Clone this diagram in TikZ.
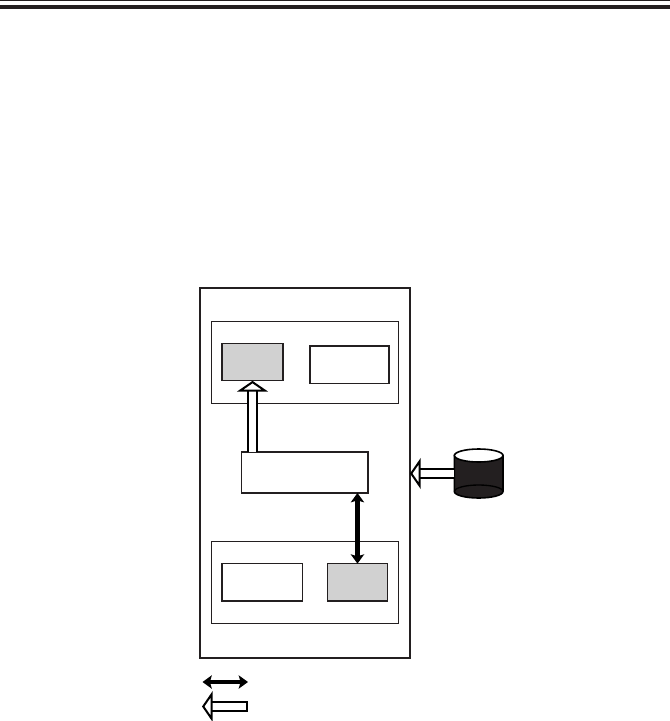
\documentclass[tikz,border=0pt]{standalone}
\usepackage{xcolor}
\usetikzlibrary{arrows.meta,positioning}
\definecolor{BoxInk}{HTML}{231F20}
\definecolor{BoxGray}{HTML}{D1D1D1}
\tikzset{
  outerbox/.style={draw=BoxInk,line width=1.2pt,inner sep=0pt,outer sep=0pt,minimum width=157.5pt,minimum height=277.5pt},
  panelbox/.style={draw=BoxInk,line width=0.75pt,inner sep=0pt,outer sep=0pt,minimum width=140.25pt,minimum height=61.5pt},
  unitbox/.style={draw=BoxInk,line width=0.85pt,inner sep=0pt,outer sep=0pt,minimum height=28pt},
  diskbox/.style={inner sep=0pt,outer sep=0pt,minimum width=36.5pt,minimum height=36.5pt},
  solidarrow/.style={{Stealth[length=7pt,width=10pt,inset=1.5pt]}-{Stealth[length=7pt,width=10pt,inset=1.5pt]},line width=3.2pt,draw=black},
  hollowarrow/.style={-{Triangle[open,fill=white,length=8pt,width=23pt,line width=1.5pt]},double=white,double distance=5.4pt,line width=1.4pt,draw=black},
  hollowkey/.style={hollowarrow,{Bar[width=8.2pt,line width=1.5pt]}-{Triangle[open,fill=white,length=8pt,width=23pt,line width=1.5pt]}}
}
\begin{document}
\begin{tikzpicture}[x=0.75pt,y=-0.75pt]
\useasboundingbox (0,0) rectangle (670,721);
% rules along the top
\fill[BoxInk] (0,0) rectangle (670,1.2);
\fill[BoxInk] (0,5) rectangle (670,9);
% frame and the two panels
\node[outerbox,anchor=north west] (frame) at (200,288) {};
\node[panelbox,below right=24.75pt and 8.6pt of frame.north west] (panelA) {};
\node[panelbox,below right=189.75pt and 8.6pt of frame.north west] (panelB) {};
\node[unitbox,fill=BoxGray,minimum width=45.75pt,below right=16.9pt and 7.9pt of panelA.north west] (grayA) {};
\node[unitbox,minimum width=59.25pt,below right=18.75pt and 73.9pt of panelA.north west] (whiteA) {};
\node[unitbox,minimum width=94.9pt,minimum height=30.75pt,below right=123pt and 31.1pt of frame.north west] (mid) {};
\node[unitbox,minimum width=60.5pt,below right=17pt and 7.9pt of panelB.north west] (whiteB) {};
\node[unitbox,fill=BoxGray,minimum width=45.3pt,below right=17pt and 86.85pt of panelB.north west] (grayB) {};
% disk
\node[diskbox] (disk) at (478.7,473.5) {};
\draw[black,line width=1.2pt,fill=BoxInk] (disk.west)++(0,-18) -- ++(0,36) arc[start angle=180,end angle=0,x radius=24.3,y radius=6.5] -- ++(0,-36) -- cycle;
\draw[black,line width=1.2pt,fill=white] (disk.center)++(0,-18) ellipse[x radius=24.3,y radius=6.5];
\draw[black,line width=1pt] (disk.west)++(0,18) arc[start angle=180,end angle=360,x radius=24.3,y radius=6.5];
% connectors
\draw[hollowarrow] (grayA.south |- mid.north)--(grayA.south);
\draw[hollowarrow] (disk.west)--(frame.east |- disk.west);
\draw[solidarrow] (grayB.north |- mid.south)--(grayB.north);
% legend
\coordinate (keyAl) at (202.5,682);
\coordinate (keyAr) at (248,682);
\coordinate (keyBl) at (202,706.5);
\coordinate (keyBr) at (248,706.5);
\draw[solidarrow] (keyAl)--(keyAr);
\draw[hollowkey] (keyBr)--(keyBl);
\end{tikzpicture}
\end{document}
